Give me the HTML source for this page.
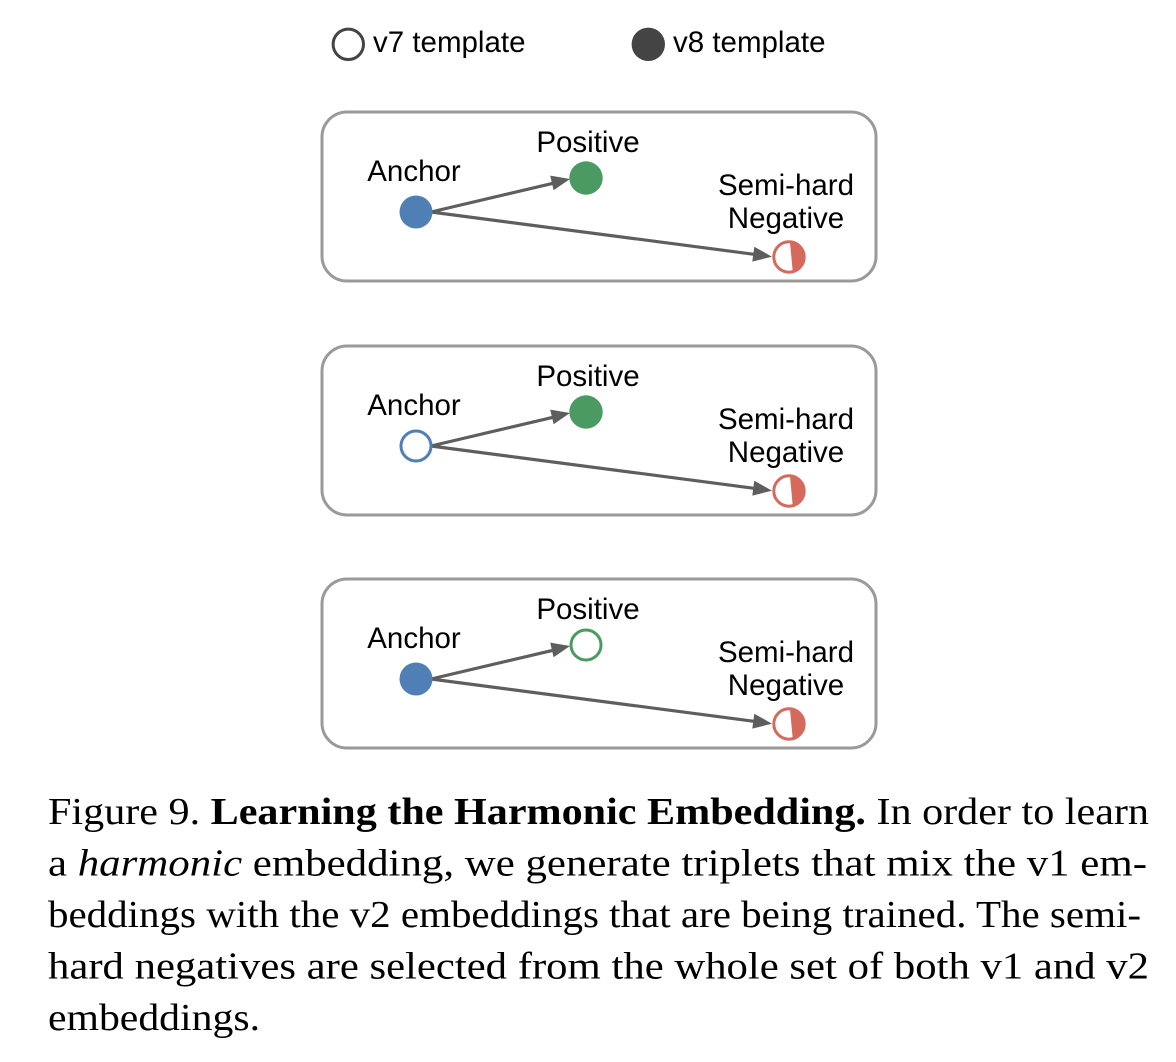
<!DOCTYPE html>
<html>
<head>
<meta charset="utf-8">
<style>
  html, body { margin: 0; padding: 0; background: #ffffff; }
  body { width: 1176px; height: 1062px; overflow: hidden; }
  svg { display: block; }
  .sans { font-family: "Liberation Sans", Arial, sans-serif; font-size: 29.5px; fill: #000; }
  .serif { font-family: "Liberation Serif", "Times New Roman", serif; font-size: 38px; fill: #000; }
</style>
</head>
<body>
<svg width="1176" height="1062" viewBox="0 0 1176 1062" xmlns="http://www.w3.org/2000/svg">
  <rect x="0" y="0" width="1176" height="1062" fill="#ffffff"/>

  <!-- Legend -->
  <circle cx="348.3" cy="44.3" r="15.2" fill="#ffffff" stroke="#444444" stroke-width="3"/>
  <text class="sans" x="373" y="52">v7 template</text>
  <circle cx="648.3" cy="44.3" r="16.7" fill="#444444"/>
  <text class="sans" x="673" y="52">v8 template</text>

  <defs>
    <g id="arrows">
      <!-- arrow to positive -->
      <line x1="431" y1="212" x2="553" y2="183.3" stroke="#5e5e5e" stroke-width="3.2"/>
      <polygon points="570,179 553.6,190.2 550.2,175.6" fill="#5e5e5e"/>
      <!-- arrow to negative -->
      <line x1="431" y1="212" x2="755" y2="254.4" stroke="#5e5e5e" stroke-width="3.2"/>
      <polygon points="772,256.7 752.3,261.6 754.3,246.7" fill="#5e5e5e"/>
    </g>
    <g id="labels">
      <text class="sans" x="414" y="181" text-anchor="middle">Anchor</text>
      <text class="sans" x="588" y="152" text-anchor="middle">Positive</text>
      <text class="sans" x="786" y="195" text-anchor="middle">Semi-hard</text>
      <text class="sans" x="786" y="228" text-anchor="middle">Negative</text>
    </g>
    <g id="negative">
      <circle cx="789" cy="257" r="15.2" fill="#d4695c"/>
      <path d="M 790 242.5 A 14.6 14.6 0 1 0 792.7 271.3 Z" fill="#ffffff"/>
      <circle cx="789" cy="257" r="15.2" fill="none" stroke="#d4695c" stroke-width="3"/>
    </g>
    <rect id="box" x="322" y="112" width="554" height="169" rx="25" ry="25" fill="#ffffff" stroke="#9a9a9a" stroke-width="3"/>
  </defs>

  <!-- Box 1 -->
  <g>
    <use href="#box"/>
    <use href="#labels"/>
    <use href="#arrows"/>
    <circle cx="416" cy="212" r="16.5" fill="#4f7fb4"/>
    <circle cx="586" cy="178" r="16.7" fill="#4b9a62"/>
    <use href="#negative"/>
  </g>

  <!-- Box 2 -->
  <g transform="translate(0,234)">
    <use href="#box"/>
    <use href="#labels"/>
    <use href="#arrows"/>
    <circle cx="416" cy="212" r="15" fill="#ffffff" stroke="#4f7fb4" stroke-width="3"/>
    <circle cx="586" cy="178" r="16.7" fill="#4b9a62"/>
    <use href="#negative"/>
  </g>

  <!-- Box 3 -->
  <g transform="translate(0,467)">
    <use href="#box"/>
    <use href="#labels"/>
    <use href="#arrows"/>
    <circle cx="416" cy="212" r="16.5" fill="#4f7fb4"/>
    <circle cx="586" cy="178" r="15" fill="#ffffff" stroke="#4b9a62" stroke-width="3"/>
    <use href="#negative"/>
  </g>

  <!-- Caption -->
  <text class="serif" x="48" y="824" textLength="1101" lengthAdjust="spacingAndGlyphs">Figure 9. <tspan font-weight="bold">Learning the Harmonic Embedding.</tspan> In order to learn</text>
  <text class="serif" x="48" y="875.5" textLength="1099" lengthAdjust="spacingAndGlyphs">a <tspan font-style="italic">harmonic</tspan> embedding, we generate triplets that mix the v1 em-</text>
  <text class="serif" x="48" y="927" textLength="1093" lengthAdjust="spacingAndGlyphs">beddings with the v2 embeddings that are being trained. The semi-</text>
  <text class="serif" x="48" y="978.5" textLength="1101" lengthAdjust="spacingAndGlyphs">hard negatives are selected from the whole set of both v1 and v2</text>
  <text class="serif" x="48" y="1030" textLength="212" lengthAdjust="spacingAndGlyphs">embeddings.</text>
</svg>
</body>
</html>
